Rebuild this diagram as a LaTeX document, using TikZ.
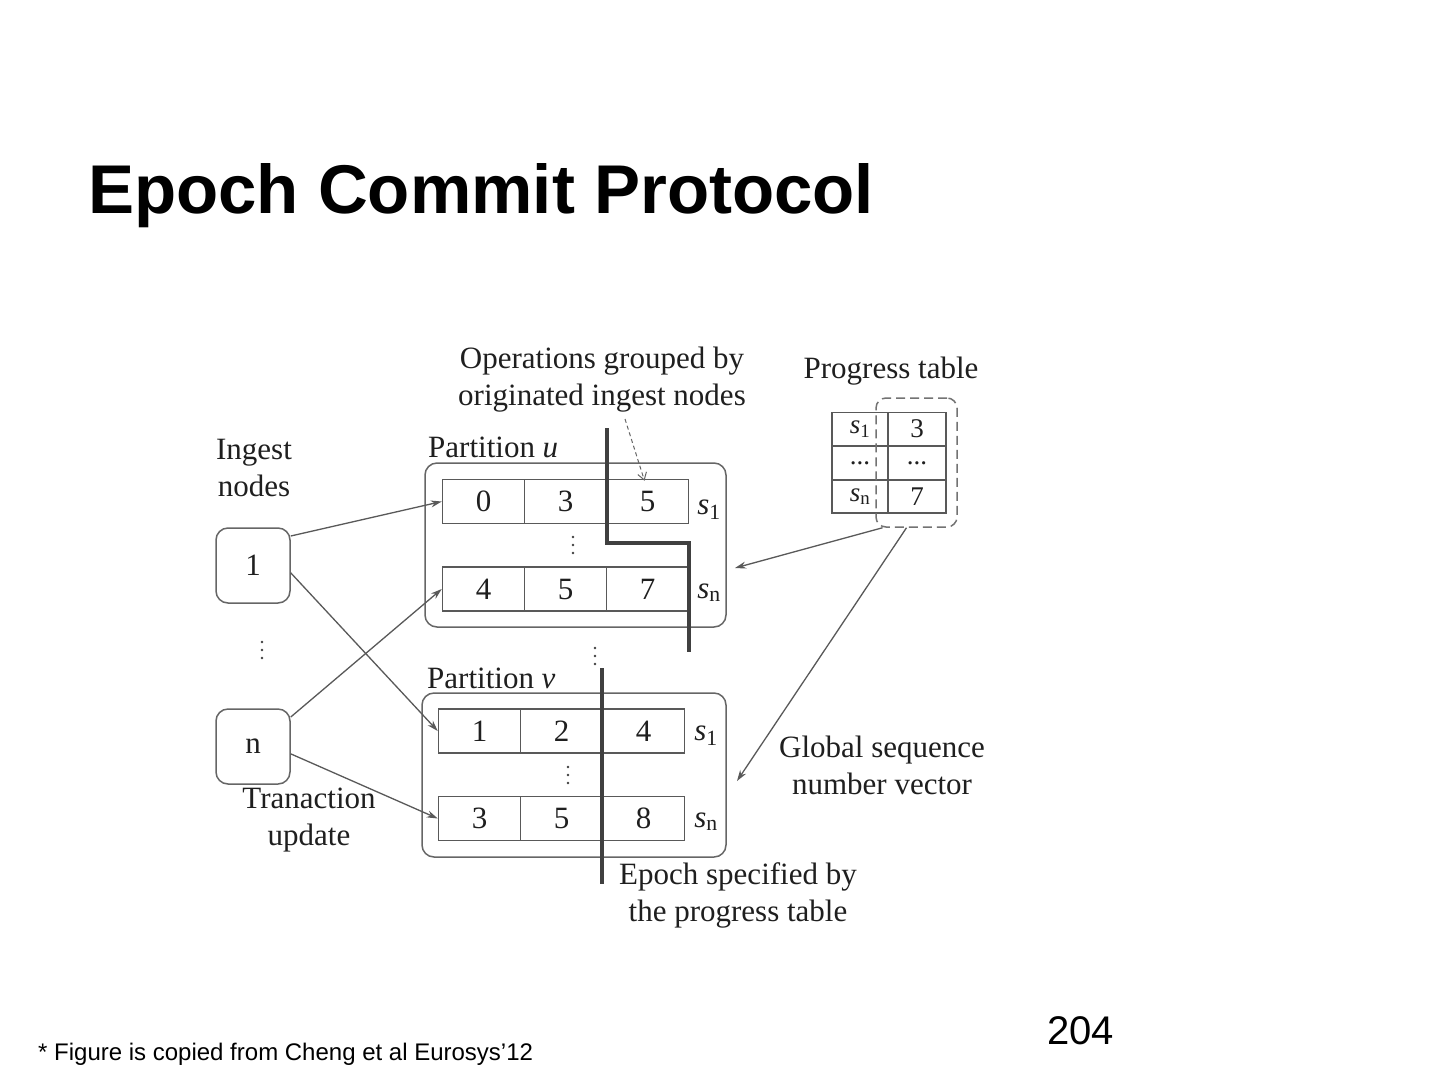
\documentclass[tikz,border=0pt]{standalone}
\usepackage{fontspec}
\setmainfont{Liberation Serif}
\newfontfamily\sansf{Liberation Sans}
\usetikzlibrary{arrows.meta}
\begin{document}
\begin{tikzpicture}[x=1pt,y=-1pt,
  txt/.style={font=\fontsize{31}{37}\selectfont, text=black!88, align=center, inner sep=0},
  cell/.style={draw=black!65, line width=1.5pt, minimum width=82pt, minimum height=44pt, inner sep=0, font=\fontsize{31}{37}\selectfont, text=black!88},
  pcell/.style={draw=black!65, line width=1.5pt, minimum height=33pt, inner sep=0, font=\fontsize{27}{30}\selectfont, text=black!88},
  part/.style={draw=black!60, line width=1.5pt, rounded corners=12pt, inner sep=0},
  inode/.style={draw=black!60, line width=1.5pt, rounded corners=12pt, minimum width=74pt, minimum height=75pt, inner sep=0, font=\fontsize{31}{37}\selectfont, text=black!88},
  conn/.style={draw=black!65, line width=1.3pt, -{Stealth[length=11pt,width=7pt]}},
  epoch/.style={draw=black!75, line width=3.5pt},
  vdot/.style={fill=black!75, draw=none},
  sl/.style={txt, anchor=base},
  ]
\useasboundingbox (0,0) rectangle (1440,1080);
\fill[white] (0,0) rectangle (1440,1080);

% title, footer, page number
\node[anchor=base west, inner sep=0, font=\sansf\bfseries\fontsize{69}{80}\selectfont] (title) at (88,213) {Epoch Commit Protocol};
\node[anchor=base west, inner sep=0, font=\sansf\fontsize{24}{28}\selectfont] (foot) at (38,1060) {* Figure is copied from Cheng et al Eurosys’12};
\node[anchor=base west, inner sep=0, font=\sansf\fontsize{40}{44}\selectfont] (pg) at (1047,1044) {204};

% partition boxes
\node[part, minimum width=301pt, minimum height=164pt] (pu) at (575.5,545) {};
\node[part, minimum width=304pt, minimum height=164pt] (pv) at (574,775) {};
\node[txt, anchor=west] (plu) at (428,447) {Partition \textit{u}};
\node[txt, anchor=west] (plv) at (427,678) {Partition \textit{v}};

% partition u cells
\node[cell] (u1a) at (483.5,501.5) {0};
\node[cell] (u1b) at (565.5,501.5) {3};
\node[cell] (u1c) at (647.5,501.5) {5};
\node[cell] (una) at (483.5,589) {4};
\node[cell] (unb) at (565.5,589) {5};
\node[cell] (unc) at (647.5,589) {7};
\node[sl] (us1) at (709,514) {\textit{s}\textsubscript{1}};
\node[sl] (usn) at (709,598) {\textit{s}\textsubscript{n}};

% partition v cells
\node[cell] (v1a) at (479.5,731) {1};
\node[cell] (v1b) at (561.5,731) {2};
\node[cell] (v1c) at (643.5,731) {4};
\node[cell] (vna) at (479.5,818.5) {3};
\node[cell] (vnb) at (561.5,818.5) {5};
\node[cell] (vnc) at (643.5,818.5) {8};
\node[sl] (vs1) at (706,740) {\textit{s}\textsubscript{1}};
\node[sl] (vsn) at (706,827) {\textit{s}\textsubscript{n}};

% vertical dots
\foreach \x/\y in {573/545, 568/775, 262/650, 595/656}{
  \fill[vdot] (\x,\y-8) circle (1.4pt);
  \fill[vdot] (\x,\y) circle (1.4pt);
  \fill[vdot] (\x,\y+8) circle (1.4pt);
}

% epoch lines
\draw[epoch] (607,428) -- (607,543) -- (689,543) -- (689,652);
\draw[epoch] (602,668) -- (602,884);

% ingest nodes
\node[txt] (ing) at (254,468) {Ingest\\nodes};
\node[inode] (n1) at (253,565.5) {1};
\node[inode] (nn) at (253,746.5) {n};
\node[txt] (tru) at (309,820) {Tranaction\\update};

% connectors from ingest nodes
\draw[conn] (n1.38) -- (u1a.west);
\draw[conn] (n1.-11) -- (v1a.west);
\draw[conn] (nn.38) -- (una.west);
\draw[conn] (nn.-11) -- (vna.west);

% operations label
\node[txt] (ops) at (602,380) {Operations grouped by\\originated ingest nodes};
\coordinate (opsend) at (625,419);
\draw[draw=black!60, line width=1pt, dash pattern=on 4pt off 3pt, -{Straight Barb[length=7pt,width=9pt]}] (opsend) -- ([xshift=-3pt,yshift=-2pt]u1c.north);

% progress table
\node[txt] (ptl) at (891,371) {Progress table};
\node[pcell, minimum width=56pt] (p1a) at (860,429) {\textit{s}\textsubscript{1}};
\node[pcell, minimum width=58pt] (p1b) at (917,429) {3};
\node[pcell, minimum width=56pt] (p2a) at (860,463) {...};
\node[pcell, minimum width=58pt] (p2b) at (917,463) {...};
\node[pcell, minimum width=56pt] (p3a) at (860,496.5) {\textit{s}\textsubscript{n}};
\node[pcell, minimum width=58pt] (p3b) at (917,496.5) {7};
\node[draw=black!55, line width=1.5pt, dash pattern=on 9pt off 5pt, rounded corners=10pt, minimum width=81pt, minimum height=129pt, inner sep=0] (pbox) at (916.5,462.5) {};

% arrows from the progress table
\coordinate (tu) at (735,568);
\coordinate (tv) at (737,781);
\draw[conn] ([xshift=-34pt]pbox.south) -- (tu);
\draw[conn] ([xshift=-10pt]pbox.south) -- (tv);

\node[txt] (gsv) at (882,765) {Global sequence\\number vector};
\node[txt] (eps) at (738,895) {Epoch specified by\\the progress table};
\end{tikzpicture}
\end{document}
